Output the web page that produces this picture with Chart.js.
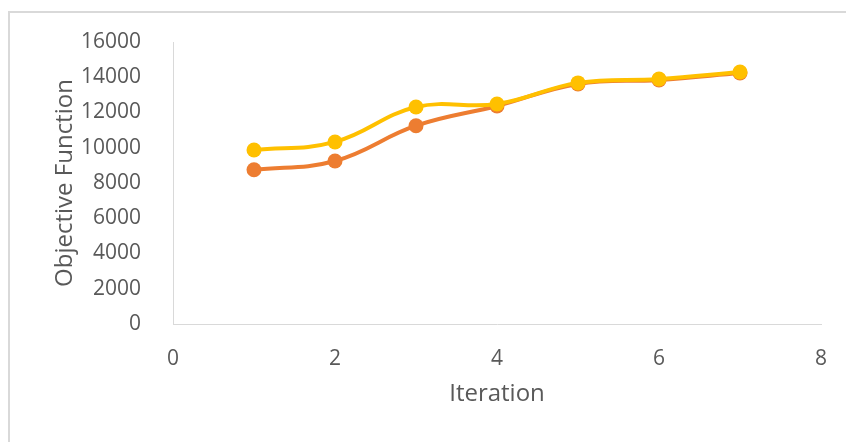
<!DOCTYPE html>
<html>
<head>
<meta charset="utf-8">
<script src="https://cdn.jsdelivr.net/npm/chart.js@4"></script>
<style>
  body { margin: 0; background: #fff; }
  #wrap { position: relative; width: 846px; height: 442px; overflow: hidden; }
  #frame {
    position: absolute; left: 8px; top: 11px; width: 900px; height: 500px;
    border-top: 2px solid #d9d9d9; border-left: 2px solid #d9d9d9;
  }
  canvas { position: absolute; left: 0; top: 0; }
</style>
</head>
<body>
<div id="wrap">
  <div id="frame"></div>
  <canvas id="grafico" width="846" height="442"></canvas>
</div>
<script>
// Dados
const iteracoes = [1, 2, 3, 4, 5, 6, 7];
const serieLaranja = [8750, 9250, 11250, 12370, 13620, 13850, 14240];
const serieAmarela = [9870, 10330, 12310, 12480, 13680, 13900, 14300];
const ticksX = [0, 2, 4, 6, 8];
const ticksY = [0, 2000, 4000, 6000, 8000, 10000, 12000, 14000, 16000];

const corTexto = '#595959';
const fonte = 'Open Sans';

function pontos(valores) {
    return iteracoes.map((x, i) => ({ x: x, y: valores[i] }));
}

function serie(nome, valores, cor, ordem) {
    return {
        label: nome,
        data: pontos(valores),
        showLine: true,
        borderColor: cor,
        backgroundColor: cor,
        borderWidth: 4,
        pointRadius: 7.5,
        pointBorderWidth: 0,
        tension: 0.4,
        order: ordem
    };
}

new Chart(document.getElementById('grafico'), {
    type: 'scatter',
    data: {
        datasets: [
            serie('Série 2', serieAmarela, '#FFC000', 0),
            serie('Série 1', serieLaranja, '#ED7D31', 1)
        ]
    },
    options: {
        responsive: false,
        animation: false,
        layout: { padding: { left: 0, right: 25, top: 42, bottom: 0 } },
        plugins: {
            legend: { display: false },
            tooltip: { enabled: false }
        },
        scales: {
            x: {
                type: 'linear',
                min: ticksX[0],
                max: ticksX[ticksX.length - 1],
                afterBuildTicks: (scale) => { scale.ticks = ticksX.map(v => ({ value: v })); },
                afterFit: (scale) => { scale.height = 118; },
                grid: { display: false },
                border: { display: true, color: '#d9d9d9', width: 1 },
                ticks: {
                    color: corTexto, font: { family: fonte, size: 21 }, padding: 14, maxRotation: 0,
                    callback: (v) => String(v)
                },
                title: {
                    display: true, text: 'Iteration', color: corTexto,
                    font: { family: fonte, size: 24 }, padding: { top: 0, bottom: 33 }
                }
            },
            y: {
                type: 'linear',
                min: ticksY[0],
                max: ticksY[ticksY.length - 1],
                afterBuildTicks: (scale) => { scale.ticks = ticksY.map(v => ({ value: v })); },
                afterFit: (scale) => { scale.width = 173; },
                grid: { display: false },
                border: { display: true, color: '#d9d9d9', width: 1 },
                ticks: {
                    color: corTexto, font: { family: fonte, size: 21 }, padding: 24,
                    callback: (v) => String(v)
                },
                title: {
                    display: true, text: 'Objective Function', color: corTexto,
                    font: { family: fonte, size: 24 }, padding: { top: 51, bottom: 0 }
                }
            }
        }
    }
});
</script>
</body>
</html>
